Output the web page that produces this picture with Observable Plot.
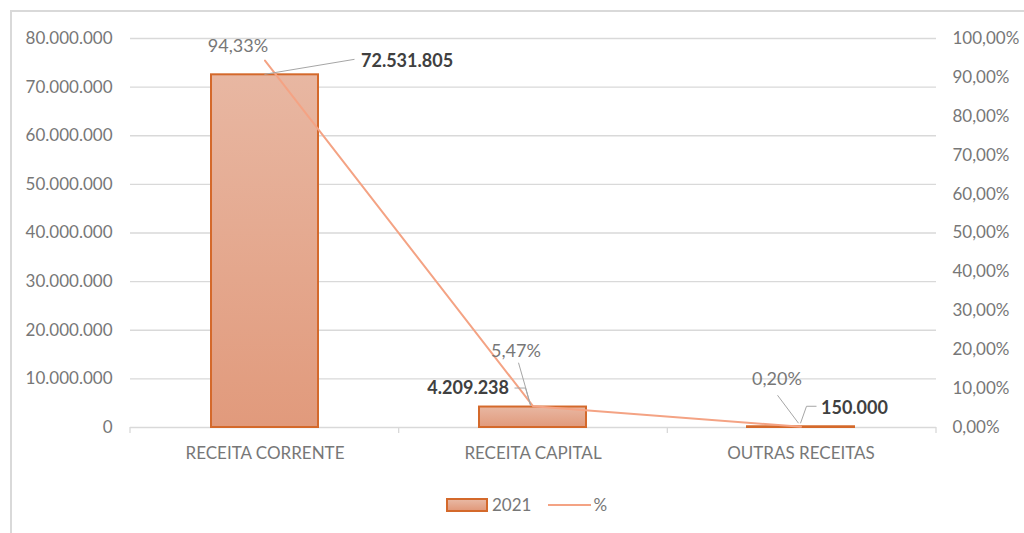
<!DOCTYPE html>
<html><head><meta charset="utf-8">
<script src="https://cdn.jsdelivr.net/npm/d3@7"></script>
<script src="https://cdn.jsdelivr.net/npm/@observablehq/plot@0.6"></script>
<style>
body{margin:0;background:#fff;font-family:Lato,sans-serif;overflow:hidden;}
#frame{position:absolute;left:10px;top:10px;width:1020px;height:530px;border-left:2px solid #d9d9d9;border-top:2px solid #d9d9d9;}
#chart{position:absolute;left:0;top:0;}
#legend{position:absolute;top:494px;left:446px;display:flex;align-items:center;font-size:17px;color:#777;font-family:Lato,sans-serif;}
.sw{width:38px;height:10px;border:2px solid #D4692B;background:linear-gradient(#E8B7A2,#E19A7C);}
.ln{width:43px;height:2px;background:#F4A384;margin-left:17px;}
</style></head><body>
<div id="frame"></div>
<div id="chart"></div>
<div id="legend"><div class="sw"></div><span style="margin-left:4px">2021</span><div class="ln"></div><span style="margin-left:2px">%</span></div>
<script>
// ---- data ----
const categories = ["RECEITA CORRENTE", "RECEITA CAPITAL", "OUTRAS RECEITAS"];
const values2021 = [72531805, 4209238, 150000];
const percents = [94.33, 5.47, 0.20];
const leftTicks = [0, 10000000, 20000000, 30000000, 40000000, 50000000, 60000000, 70000000, 80000000];
const rightTicks = [0, 10, 20, 30, 40, 50, 60, 70, 80, 90, 100];
const seriesNames = ["2021", "%"];

// ---- layout (not data) ----
const valueLabelLayout = [
  {dx: 96, dy: -14, anchor: "start", leader: [[0,0],[90,-15]]},
  {dx: -24, dy: -19, anchor: "end", leader: [[-18,-18.5],[-7,-18.5],[-2,-1]]},
  {dx: 20, dy: -19, anchor: "start", leader: [[16,-20],[6,-20],[0,-3]]}
];
const pctLabelLayout = [
  {dx: -27, dy: -14, leader: null},
  {dx: -17, dy: -55, leader: [[-14,-43],[-2,-1]]},
  {dx: -24, dy: -47, leader: [[-23,-31],[-2,-3]]}
];

const yMax = leftTicks[leftTicks.length - 1];
const k = yMax / rightTicks[rightTicks.length - 1];
const loc = d3.formatLocale({decimal: ",", thousands: ".", grouping: [3], currency: ["R$", ""]});
const fmt = loc.format(",d");
const pfmt = v => loc.format(".2f")(v) + "%";

const data = categories.map((c, i) => ({cat: c, value: values2021[i], pct: percents[i]}));

const font = {fontFamily: "Lato, sans-serif", fontSize: 17};
const grey = "#777777";

const marks = [
  Plot.gridY(leftTicks, {stroke: "#d9d9d9", strokeOpacity: 1, strokeWidth: 1.3}),
  Plot.barY(data, {x: "cat", y: "value", fill: "url(#barGrad)", stroke: "#D4692B", strokeWidth: 2}),
  Plot.line(data, {x: "cat", y: d => d.pct * k, stroke: "#F4A384", strokeWidth: 2}),
  Plot.axisY(leftTicks, {anchor: "left", tickFormat: fmt, tickSize: 0, tickPadding: 18, color: grey, fontSize: 17, label: null}),
  Plot.axisY(rightTicks.map(p => p * k), {anchor: "right", tickFormat: v => pfmt(v / k), tickSize: 0, tickPadding: 16, color: grey, fontSize: 17, label: null}),
  Plot.axisX({tickSize: 0, tickPadding: 19, color: grey, fontSize: 17, label: null})
];
data.forEach((d, i) => {
  const L = valueLabelLayout[i];
  marks.push(Plot.text([d], {x: "cat", y: "value", text: e => fmt(e.value), dx: L.dx, dy: L.dy, textAnchor: L.anchor, fontWeight: "bold", fill: "#404040", fontSize: 18}));
  const P = pctLabelLayout[i];
  marks.push(Plot.text([d], {x: "cat", y: e => e.pct * k, text: e => pfmt(e.pct), dx: P.dx, dy: P.dy, textAnchor: "middle", fill: grey, fontSize: 18}));
});

const chart = Plot.plot({
  width: 1024, height: 480,
  marginLeft: 130, marginRight: 88, marginTop: 38, marginBottom: 53,
  style: {...font, background: "transparent", color: grey},
  x: {domain: categories, paddingInner: 0.6, paddingOuter: 0.3, label: null, axis: null},
  y: {domain: [0, yMax], label: null, axis: null},
  marks
});

const svg = d3.select(chart);
const grad = svg.insert("defs", ":first-child").append("linearGradient")
  .attr("id", "barGrad").attr("x1", 0).attr("y1", 0).attr("x2", 0).attr("y2", 1);
grad.append("stop").attr("offset", "0%").attr("stop-color", "#E8B7A2");
grad.append("stop").attr("offset", "100%").attr("stop-color", "#E19A7C");

const xs = chart.scale("x"), ys = chart.scale("y");
const cx = c => xs.apply(c) + xs.bandwidth / 2;
const g = svg.append("g");
// category boundary ticks
const base = ys.apply(0);
const start = xs.range[0];
for (let i = 0; i <= categories.length; i++) {
  const bx = start + i * (xs.range[1] - xs.range[0]) / categories.length;
  g.append("line").attr("x1", bx).attr("x2", bx).attr("y1", base).attr("y2", base + 6)
    .attr("stroke", "#d9d9d9").attr("stroke-width", 1.3);
}
const lineGen = d3.line();
data.forEach((d, i) => {
  const ax = cx(d.cat);
  const vy = ys.apply(d.value);
  const py = ys.apply(d.pct * k);
  const L = valueLabelLayout[i].leader;
  if (L) g.append("path").attr("d", lineGen(L.map(p => [ax + p[0], vy + p[1]]))).attr("fill", "none").attr("stroke", "#a6a6a6").attr("stroke-width", 1);
  const P = pctLabelLayout[i].leader;
  if (P) g.append("path").attr("d", lineGen(P.map(p => [ax + p[0], py + p[1]]))).attr("fill", "none").attr("stroke", "#a6a6a6").attr("stroke-width", 1);
});

document.getElementById("chart").appendChild(chart);
</script>
</body></html>
